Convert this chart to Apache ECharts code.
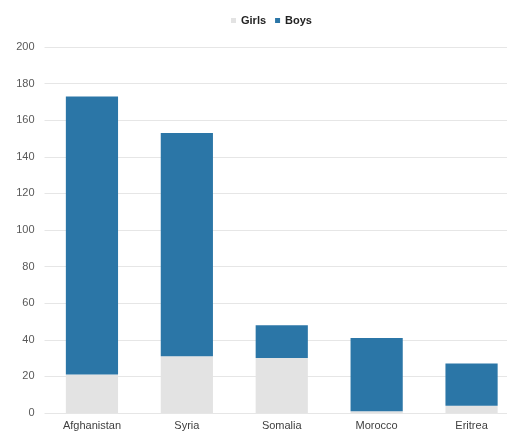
<!DOCTYPE html>
<html><head><meta charset="utf-8">
<script src="https://cdn.jsdelivr.net/npm/echarts@6/dist/echarts.min.js"></script>
<style>html,body{margin:0;padding:0;background:#fff;overflow:hidden}#c{width:520px;height:437px}</style>
</head><body><div id="c"></div>
<script>
const categories = ["Afghanistan", "Syria", "Somalia", "Morocco", "Eritrea"];
const girls = [21, 31, 30, 1, 4];
const boys = [152, 122, 18, 40, 23];
const yTicks = [0, 20, 40, 60, 80, 100, 120, 140, 160, 180, 200];

const chart = echarts.init(document.getElementById('c'));
chart.setOption({
  animation: false,
  legend: {
    top: 10, left: 226, itemWidth: 5, itemHeight: 5, itemGap: 9,
    icon: 'rect',
    textStyle: { fontFamily: 'Liberation Sans, Arial', fontSize: 11, fontWeight: 'bold', color: '#222' },
    data: ['Girls', 'Boys']
  },
  grid: { left: 44.5, right: 1, top: 47, bottom: 24 },
  xAxis: {
    type: 'category', data: categories,
    axisLine: { show: false }, axisTick: { show: false },
    axisLabel: { color: '#404040', fontFamily: 'Liberation Sans, Arial', fontSize: 11, margin: 7 }
  },
  yAxis: {
    type: 'value', min: yTicks[0], max: yTicks[yTicks.length - 1], interval: 20,
    axisLine: { show: false }, axisTick: { show: false },
    splitLine: { lineStyle: { color: '#e6e6e6', width: 1 } },
    axisLabel: { color: '#595959', fontFamily: 'Liberation Sans, Arial', fontSize: 11, margin: 10 }
  },
  series: [
    { name: 'Girls', type: 'bar', stack: 't', data: girls, barWidth: '55%', itemStyle: { color: '#e3e3e3' } },
    { name: 'Boys', type: 'bar', stack: 't', data: boys, barWidth: '55%', itemStyle: { color: '#2b76a7' } }
  ]
});
</script></body></html>
